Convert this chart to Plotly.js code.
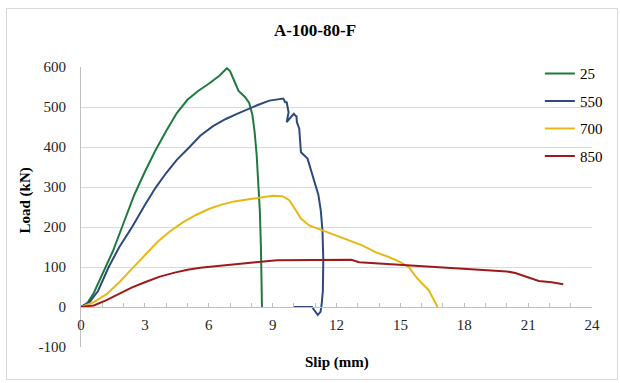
<!DOCTYPE html>
<html>
<head>
<meta charset="utf-8">
<script src="https://cdn.plot.ly/plotly-3.0.1.min.js"></script>
<style>
  html, body { margin: 0; padding: 0; background: #ffffff; }
  #frame { position: absolute; left: 6px; top: 8px; width: 610px; height: 370px; border: 1px solid #d9d9d9; }
  #chart { position: absolute; left: 0; top: 0; width: 620px; height: 383px; }
</style>
</head>
<body>
<div id="frame"></div>
<div id="chart"></div>
<script>
// Series names (temperature)
const seriesNames = ["25", "550", "700", "850"];

// 25
const slip25 = [0, 0.3, 0.6, 1.0, 1.5, 2.0, 2.5, 3.0, 3.5, 4.0, 4.5, 5.0, 5.5, 6.0, 6.5, 6.85, 7.0, 7.2, 7.4, 7.7, 7.9, 8.05, 8.15, 8.25, 8.32, 8.4, 8.45, 8.48, 8.5];
const load25 = [0, 10, 35, 80, 140, 210, 280, 338, 392, 440, 485, 518, 540, 558, 578, 597, 590, 565, 540, 525, 510, 480, 440, 380, 320, 240, 150, 60, 0];

// 550
const slip550 = [0, 0.4, 0.8, 1.3, 1.8, 2.4, 3.0, 3.5, 4.0, 4.5, 5.1, 5.6, 6.2, 6.8, 7.3, 7.8, 8.3, 8.85, 9.4, 9.5, 9.59, 9.66, 9.75, 9.66, 9.86, 10.0, 10.12, 10.12, 10.14, 10.25, 10.33, 10.64, 10.95, 11.15, 11.26, 11.34, 11.38, 11.36, 11.3, 11.25, 11.12, 11.0, 10.85, 10.5, 10.0];
const load550 = [0, 12, 40, 100, 150, 200, 255, 298, 335, 368, 400, 428, 452, 470, 482, 494, 505, 516, 520, 521, 512, 512, 487, 462, 475, 483, 475, 479, 462, 446, 387, 371, 317, 280, 242, 192, 120, 40, 5, -12, -20, -10, 0, 0, 0];

// 700
const slip700 = [0, 0.6, 1.2, 1.8, 2.4, 3.0, 3.6, 4.2, 4.8, 5.4, 6.0, 6.6, 7.2, 7.8, 8.4, 9.0, 9.47, 9.78, 10.09, 10.33, 10.72, 11.34, 11.96, 12.59, 13.21, 13.83, 14.46, 15.0, 15.39, 15.7, 15.94, 16.33, 16.57, 16.75];
const load700 = [0, 12, 32, 62, 96, 130, 163, 190, 212, 230, 245, 256, 264, 269, 273, 278, 277, 267, 242, 221, 204, 192, 179, 167, 154, 137, 125, 112, 100, 78, 63, 42, 17, 0];

// 850
const slip850 = [0, 0.6, 1.2, 1.8, 2.4, 3.0, 3.7, 4.4, 5.0, 5.6, 6.3, 6.9, 7.5, 8.2, 9.2, 10.5, 11.5, 12.7, 13.06, 14.0, 15.24, 16.2, 17.11, 18.3, 19.3, 20.0, 20.4, 21.0, 21.5, 22.1, 22.65];
const load850 = [0, 4, 17, 34, 49, 62, 76, 86, 93, 98, 102, 106, 109, 112, 117, 118, 118, 118, 112, 109, 105, 102, 98, 95, 92, 89, 85, 75, 65, 62, 57];

// Axis ticks
const xTicks = [0, 3, 6, 9, 12, 15, 18, 21, 24];
const yTicks = [-100, 0, 100, 200, 300, 400, 500, 600];

const colors = ["#1f7a40", "#2e4a7c", "#e6b817", "#9c1a1c"];
const xs = [slip25, slip550, slip700, slip850];
const ys = [load25, load550, load700, load850];

const serif = "Liberation Serif, Times New Roman, serif";

const traces = seriesNames.map((n, i) => ({
  type: "scatter",
  mode: "lines",
  name: n,
  x: xs[i],
  y: ys[i],
  legendgroup: "g" + i,
  line: { color: colors[i], width: 2 }
}));

const layout = {
  width: 620,
  height: 383,
  margin: { l: 81, r: 26, t: 67, b: 36, pad: 0 },
  paper_bgcolor: "rgba(0,0,0,0)",
  plot_bgcolor: "rgba(0,0,0,0)",
  showlegend: true,
  font: { family: serif, size: 15, color: "#262626" },
  title: {
    text: "<b>A-100-80-F</b>",
    x: 315 / 620, xref: "container", xanchor: "center",
    y: 1 - 30 / 383, yref: "container", yanchor: "middle",
    font: { family: serif, size: 17, color: "#000000" }
  },
  legend: {
    x: 0.898, xanchor: "left",
    y: 1.035, yanchor: "top",
    bgcolor: "rgba(0,0,0,0)",
    traceorder: "grouped",
    tracegroupgap: 5,
    font: { family: serif, size: 15, color: "#000000" }
  },
  xaxis: {
    range: [0, 24],
    tickvals: xTicks,
    ticktext: xTicks.map(String),
    anchor: "free",
    position: 100 / 700,
    showgrid: false,
    zeroline: false,
    showline: true,
    linecolor: "#bfbfbf",
    linewidth: 1,
    ticks: "inside",
    ticklen: 4,
    tickcolor: "#bfbfbf",
    ticklabelstandoff: 4,
    minor: { dtick: 1, ticks: "inside", ticklen: 4, tickcolor: "#bfbfbf", showgrid: false },
    tickfont: { family: serif, size: 15, color: "#262626" },
    fixedrange: true
  },
  yaxis: {
    range: [-100, 600],
    tickvals: yTicks,
    ticktext: yTicks.map(String),
    showgrid: true,
    gridcolor: "#d9d9d9",
    gridwidth: 1,
    zeroline: false,
    showline: true,
    linecolor: "#bfbfbf",
    ticks: "",
    ticklabelstandoff: 11,
    tickfont: { family: serif, size: 15, color: "#262626" },
    fixedrange: true
  },
  annotations: [
    {
      text: "<b>Slip (mm)</b>", xref: "paper", yref: "paper",
      x: 0.5, y: -15 / 280, xanchor: "center", yanchor: "middle",
      showarrow: false, font: { family: serif, size: 15, color: "#000000" }
    },
    {
      text: "<b>Load (kN)</b>", xref: "paper", yref: "paper",
      x: (25 - 81) / 513, y: (346.7 - 200) / 280, xanchor: "center", yanchor: "middle",
      textangle: -90,
      showarrow: false, font: { family: serif, size: 15, color: "#000000" }
    }
  ]
};

Plotly.newPlot("chart", traces, layout, { displayModeBar: false, staticPlot: true });
</script>
</body>
</html>
